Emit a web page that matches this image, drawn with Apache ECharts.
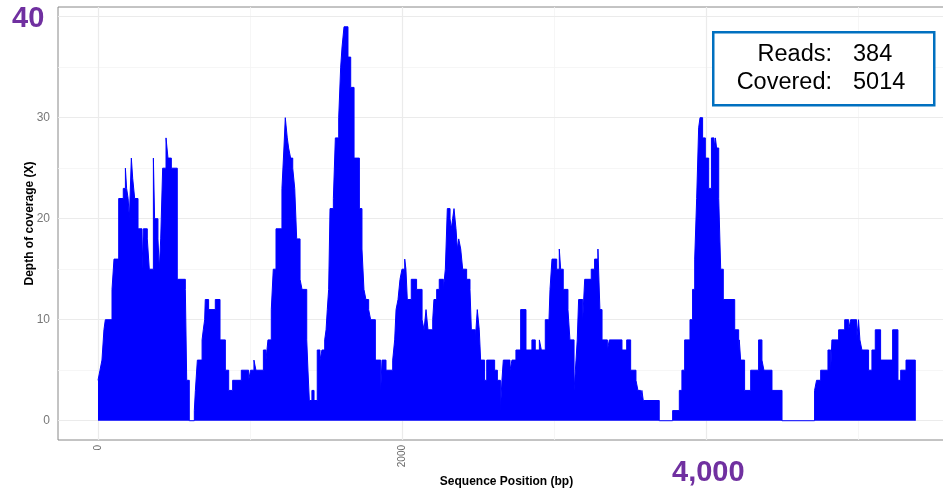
<!DOCTYPE html>
<html>
<head>
<meta charset="utf-8">
<script src="https://cdn.jsdelivr.net/npm/echarts@6/dist/echarts.min.js"></script>
<style>
html,body{margin:0;padding:0;background:#fff;overflow:hidden;}
#main{width:943px;height:493px;}
</style>
</head>
<body>
<div id="main"></div>
<script>
/* coverage steps: position (bp) where a depth starts */
var positions = [0,13,26,39,48,92,105,136,166,180,188,198,206,219,228,241,263,289,298,324,337,364,372,394,403,412,425,447,460,482,521,574,583,600,
	633,640,653,684,692,701,705,727,771,802,837,859,885,942,990,1003,1025,1038,1087,1104,1117,1139,1152,1170,1209,1222,1231,1244,1253,1266,1280,1293,1306,1328,1341,1372,1380,1389,1406,1420,
	1441,1459,1472,1490,1499,1507,1516,1525,1547,1560,1582,1595,1604,1617,1643,1661,1683,1718,1735,1748,1761,1779,1792,1823,1858,1867,1893,1937,1950,1959,1972,1985,1998,2016,2024,2033,2059,2094,
	2130,2143,2156,2169,2200,2208,2226,2243,2270,2283,2296,2314,2322,2331,2340,2353,2362,2371,2384,2397,2423,2445,2454,2480,2493,2506,2515,2541,2555,2607,2625,2645,2655,2664,
	2708,2721,2747,2778,2813,2852,2874,2901,2914,2940,2962,2971,2984,3015,3032,3041,3058,3089,3102,3129,3142,3150,3159,3186,3199,3242,3264,3286,3299,3313,3348,3361,3444,3475,3501,3536,3549,3566,3575,3584,
	3689,3777,3821,3838,3856,3891,3908,3922,3935,3948,3957,3974,3992,4014,4032,4049,4058,4066,4080,4093,4110,4185,4211,4215,4224,4250,4290,4342,4364,4377,4430,4496,
	4710,4723,4750,4798,4816,4824,4868,4908,4934,4947,4986,4999,5008,5021,5065,5087,5109,5144,5223,5258,5276,5311,5372];
var depths = [4,5,6,9,10,13,16,22,23,25,23,22,20,26,24,22,19,15,19,18,15,26,20,18,15,18,25,28,26,25,14,13,4,0,
	1,3,6,8,9,10,12,11,12,8,5,3,4,5,4,5,6,5,7,6,8,11,15,19,23,27,30,28,27,26,25,23,18,14,13,8,5,2,3,2,
	7,6,7,8,9,11,13,21,22,28,30,35,37,39,36,33,26,21,17,13,12,11,10,6,3,6,5,6,8,11,12,14,15,16,15,12,14,13,
	10,9,11,9,10,12,13,14,13,15,21,20,19,20,21,19,17,18,17,15,14,13,9,8,11,9,6,4,6,5,4,1,4,6,
	5,6,7,11,7,8,7,8,7,10,9,13,16,15,17,15,13,11,8,3,6,8,12,10,14,15,16,17,11,8,7,8,7,8,5,4,3,2,3,2,
	0,1,3,5,8,10,13,16,22,29,30,28,26,23,28,27,28,27,22,15,12,9,7,8,6,3,5,8,6,5,3,0,
	3,4,5,7,5,8,9,10,9,10,8,10,8,7,5,7,9,6,9,4,5,6,0];
/* tick values */
var xTicks = [0,2000,4000];
var xLabels = [0,2000];
var yTicks = [0,10,20,30,40];
var yLabels = [0,10,20,30];
var xMinor = [1000,3000,5000];
var yMinor = [5,15,25,35];

var covData = [];
for (var i = 0; i < positions.length; i++) {
	covData.push([positions[i], depths[i]]);
}

/* grid lines as mark lines (under the area) */
var gridLines = [];
for (var a = 0; a < xMinor.length; a++) gridLines.push({xAxis: xMinor[a], lineStyle: {color: '#f4f4f4', width: 0.8, type: 'solid'}});
for (var b = 0; b < yMinor.length; b++) gridLines.push({yAxis: yMinor[b], lineStyle: {color: '#f4f4f4', width: 0.8, type: 'solid'}});
for (var c = 0; c < xTicks.length; c++) gridLines.push({xAxis: xTicks[c], lineStyle: {color: '#ebebeb', width: 1.2, type: 'solid'}});
for (var d = 0; d < yTicks.length; d++) gridLines.push({yAxis: yTicks[d], lineStyle: {color: '#ebebeb', width: 1.2, type: 'solid'}});

var chart = echarts.init(document.getElementById('main'));
var option = {
	animation: false,
	grid: {left: 58, width: 897, top: 7, bottom: 53, show: true, borderColor: '#888', borderWidth: 1, outerBoundsMode: 'none', containLabel: false},
	xAxis: {
		type: 'value', min: -263, max: 5633,
		name: 'Sequence Position (bp)', nameLocation: 'middle', nameGap: 36, nameMoveOverlap: false,
		nameTextStyle: {fontFamily: 'Liberation Sans', fontWeight: 'bold', fontSize: 12, color: '#000'},
		axisLine: {show: false},
		axisTick: {show: true, length: 3, lineStyle: {color: '#555'}, customValues: xTicks},
		axisLabel: {rotate: 90, margin: 5, fontSize: 10, fontFamily: 'Liberation Sans', color: '#666', customValues: xLabels,
			formatter: function (v) { return String(v); }},
		splitLine: {show: false}
	},
	yAxis: {
		type: 'value', min: -1.91, max: 40.96,
		name: 'Depth of coverage (X)', nameLocation: 'middle', nameGap: 22, nameMoveOverlap: false,
		nameTextStyle: {fontFamily: 'Liberation Sans', fontWeight: 'bold', fontSize: 12, color: '#000'},
		axisLine: {show: false},
		axisTick: {show: true, length: 3, lineStyle: {color: '#555'}, customValues: yTicks},
		axisLabel: {margin: 8, fontSize: 12, fontFamily: 'Liberation Sans', color: '#777', customValues: yLabels},
		splitLine: {show: false}
	},
	series: [{
		type: 'line', data: [], z: 1, silent: true,
		markLine: {z: 1, silent: true, symbol: ['none', 'none'], label: {show: false}, animation: false, data: gridLines}
	}, {
		type: 'line', data: covData, step: 'end', z: 6,
		showSymbol: false, symbol: 'none',
		lineStyle: {color: '#0000ff', width: 1},
		areaStyle: {color: '#0000ff', opacity: 1}
	}],
	graphic: [
		{type: 'text', left: 12, top: 4, z: 20, style: {text: '40', fontSize: 29, fontWeight: 'bold', fontFamily: 'Liberation Sans', fill: '#7030a0'}},
		{type: 'text', left: 672, top: 458, z: 20, style: {text: '4,000', fontSize: 29, fontWeight: 'bold', fontFamily: 'Liberation Sans', fill: '#7030a0'}},
		{type: 'rect', left: 712, top: 31, shape: {width: 221, height: 73}, style: {fill: '#fff', stroke: '#0070c0', lineWidth: 2.5}, z: 20},
		{type: 'text', x: 832, y: 55, z: 21, style: {text: 'Reads:', align: 'right', verticalAlign: 'middle', fontSize: 23.5, fontFamily: 'Liberation Sans', fill: '#000'}},
		{type: 'text', x: 853, y: 55, z: 21, style: {text: '384', align: 'left', verticalAlign: 'middle', fontSize: 23.5, fontFamily: 'Liberation Sans', fill: '#000'}},
		{type: 'text', x: 832, y: 83, z: 21, style: {text: 'Covered:', align: 'right', verticalAlign: 'middle', fontSize: 23.5, fontFamily: 'Liberation Sans', fill: '#000'}},
		{type: 'text', x: 853, y: 83, z: 21, style: {text: '5014', align: 'left', verticalAlign: 'middle', fontSize: 23.5, fontFamily: 'Liberation Sans', fill: '#000'}}
	]
};
chart.setOption(option);
</script>
</body>
</html>
